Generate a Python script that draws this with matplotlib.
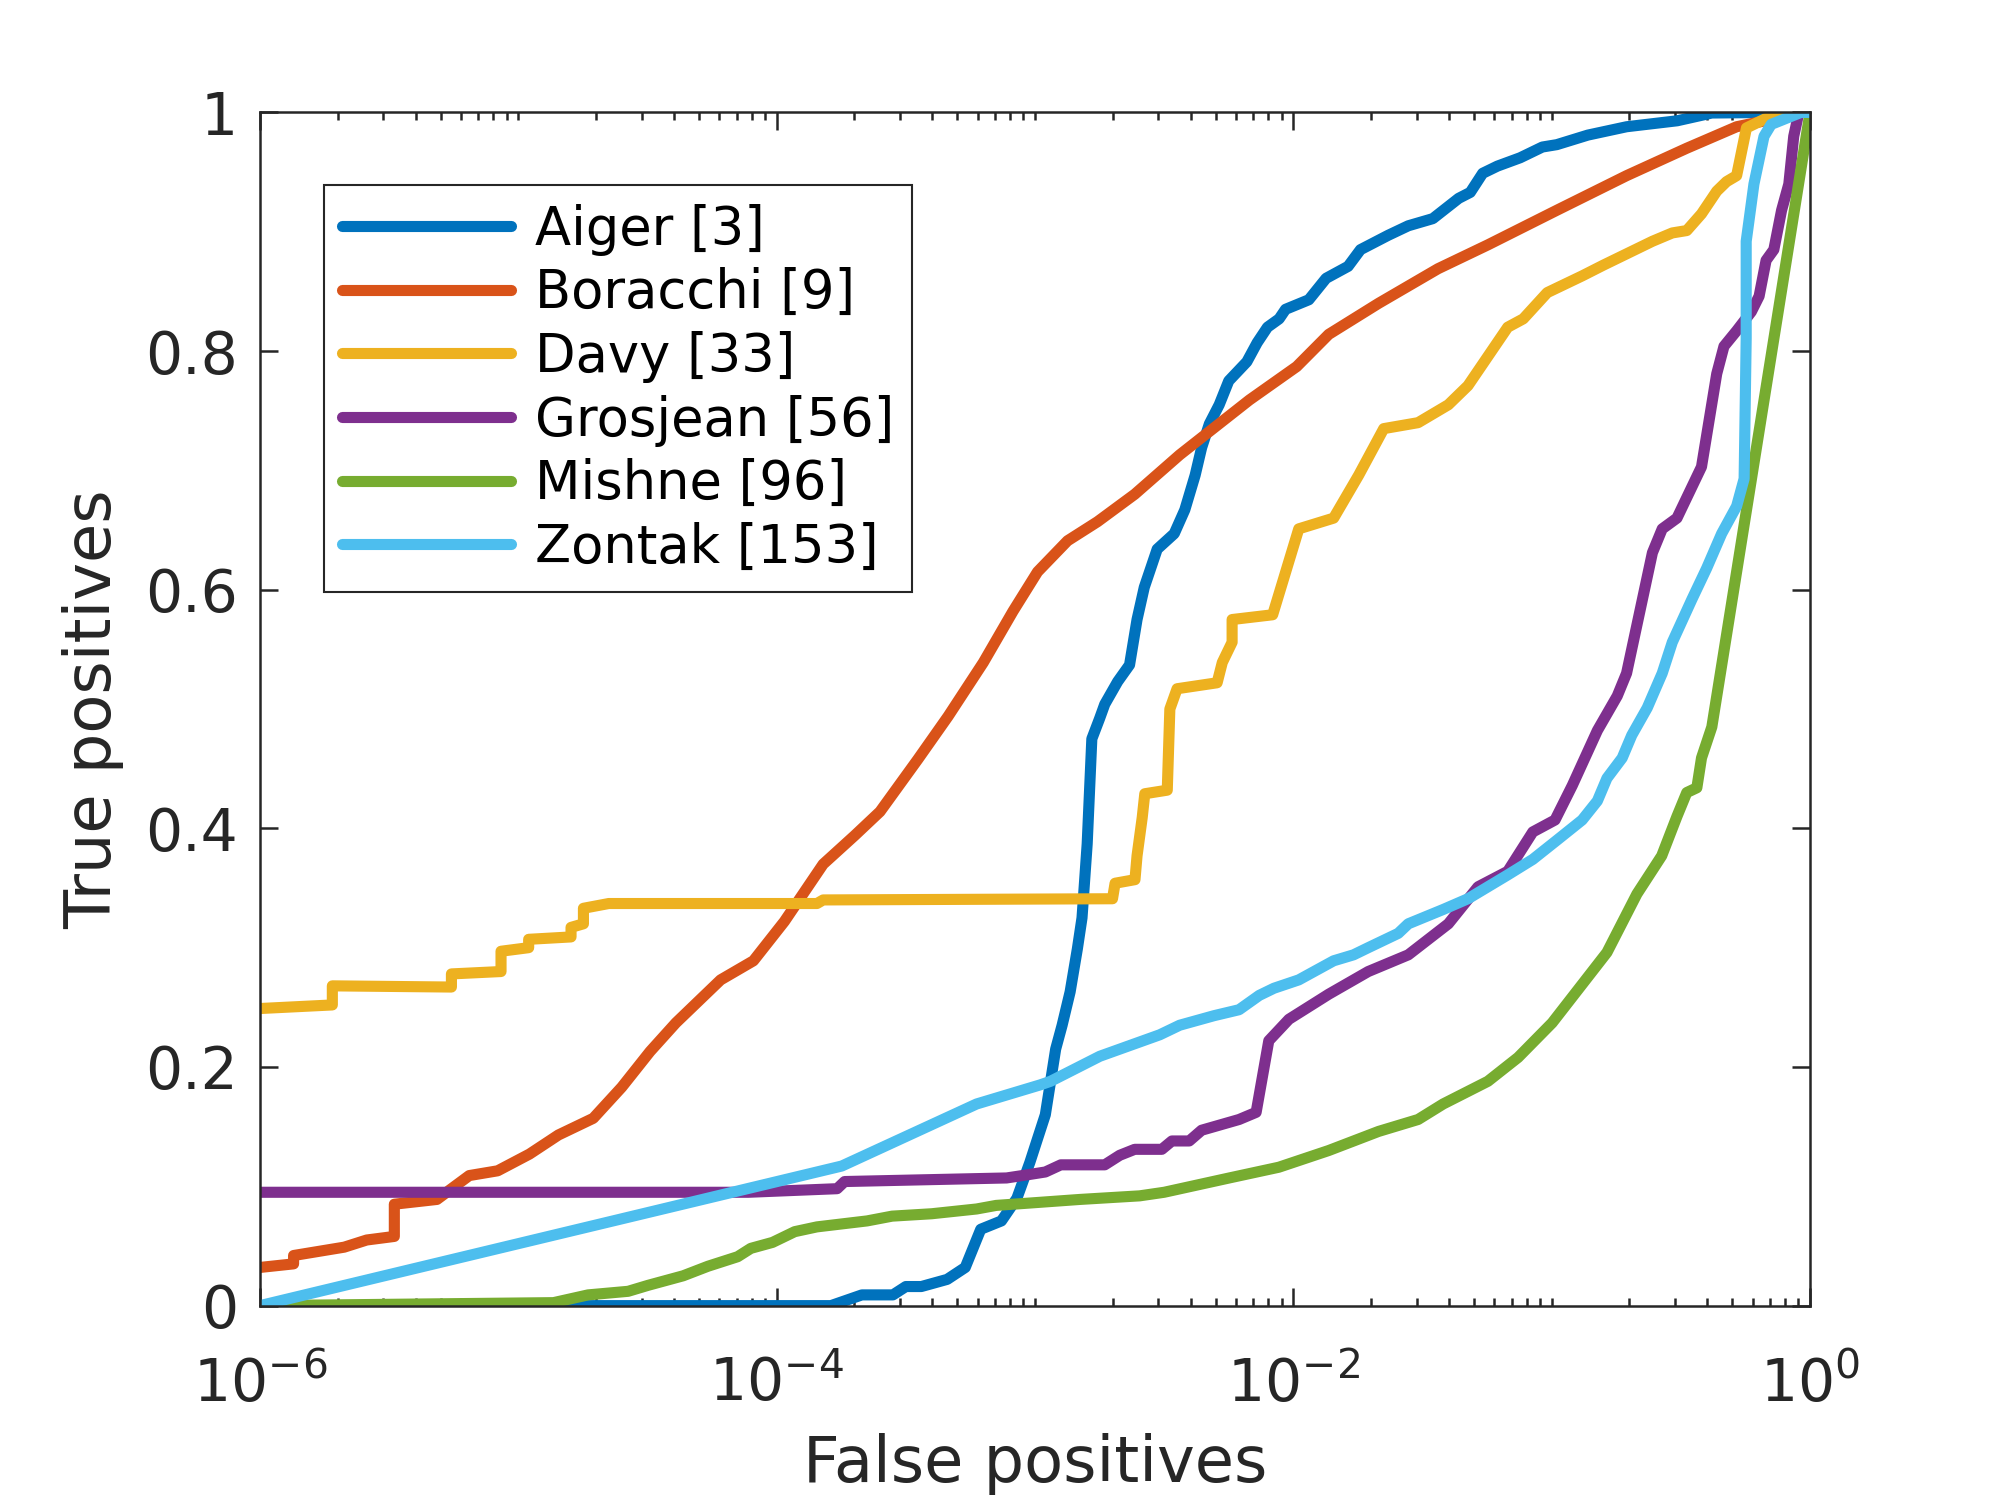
import numpy as np
import matplotlib
matplotlib.use('Agg')
import matplotlib.pyplot as plt
from matplotlib.ticker import NullFormatter

# 数据：横轴为 log10(误检率)，纵轴为检出率
aiger_lx = [-5.29, -3.79, -3.67, -3.55, -3.50, -3.44, -3.34, -3.27, -3.21, -3.13, -3.07, -3.02,
            -2.96, -2.92, -2.895, -2.864, -2.836, -2.818, -2.798, -2.78, -2.75, -2.73, -2.68,
            -2.634, -2.605, -2.577, -2.527, -2.461, -2.42, -2.38, -2.355, -2.325, -2.287, -2.25,
            -2.18, -2.14, -2.10, -2.055, -2.03, -1.94, -1.873, -1.788, -1.74, -1.633, -1.555,
            -1.46, -1.36, -1.315, -1.267, -1.21, -1.122, -1.036, -0.98, -0.86, -0.71, -0.514,
            -0.38, -0.13, 0.0]
aiger_tp = [0.0, 0.0, 0.009, 0.009, 0.016, 0.016, 0.022, 0.032, 0.064, 0.071, 0.09, 0.12,
            0.160, 0.215, 0.235, 0.263, 0.299, 0.325, 0.387, 0.475, 0.492, 0.504, 0.523,
            0.537, 0.575, 0.602, 0.634, 0.647, 0.667, 0.696, 0.719, 0.739, 0.755, 0.775,
            0.791, 0.807, 0.820, 0.827, 0.835, 0.843, 0.861, 0.871, 0.885, 0.897, 0.905,
            0.911, 0.928, 0.933, 0.949, 0.955, 0.962, 0.971, 0.973, 0.981, 0.988, 0.993,
            0.9995, 1.0, 1.0]

boracchi_lx = [-6.0, -5.87, -5.87, -5.674, -5.587, -5.48, -5.48, -5.315, -5.19, -5.08, -4.957,
               -4.845, -4.71, -4.60, -4.49, -4.39, -4.217, -4.09, -3.97, -3.82, -3.698, -3.60,
               -3.453, -3.336, -3.20, -3.085, -2.99, -2.874, -2.758, -2.614, -2.44, -2.17,
               -1.987, -1.863, -1.67, -1.44, -1.247, -0.98, -0.71, -0.477, -0.284, -0.13,
               -0.035, 0.0]
boracchi_tp = [0.032, 0.035, 0.042, 0.049, 0.055, 0.058, 0.085, 0.089, 0.109, 0.113, 0.127,
               0.143, 0.157, 0.183, 0.213, 0.237, 0.273, 0.289, 0.322, 0.37, 0.394, 0.414,
               0.458, 0.494, 0.539, 0.582, 0.615, 0.641, 0.657, 0.68, 0.713, 0.759,
               0.787, 0.814, 0.84, 0.869, 0.889, 0.918, 0.947, 0.970, 0.988, 0.995,
               1.0, 1.0]

davy_lx = [-6.0, -5.72, -5.72, -5.259, -5.259, -5.067, -5.067, -4.96, -4.96, -4.796, -4.796,
           -4.748, -4.748, -4.65, -3.844, -3.82, -2.70, -2.69, -2.613, -2.605, -2.585,
           -2.575, -2.488, -2.478, -2.45, -2.295, -2.275, -2.237, -2.237, -2.08, -1.979,
           -1.844, -1.747, -1.65, -1.517, -1.40, -1.324, -1.17, -1.11, -1.017, -0.882,
           -0.80, -0.61, -0.533, -0.477, -0.42, -0.361, -0.323, -0.284, -0.246, -0.17,
           -0.054, 0.0]
davy_tp = [0.249, 0.252, 0.268, 0.267, 0.278, 0.28, 0.297, 0.30, 0.307, 0.309, 0.317,
           0.32, 0.333, 0.337, 0.337, 0.340, 0.341, 0.354, 0.357, 0.377, 0.409,
           0.429, 0.432, 0.50, 0.517, 0.522, 0.539, 0.556, 0.575, 0.579, 0.651,
           0.66, 0.696, 0.735, 0.74, 0.755, 0.771, 0.82, 0.827, 0.849, 0.863,
           0.872, 0.892, 0.899, 0.901, 0.915, 0.934, 0.942, 0.947, 0.987, 0.995,
           1.0, 1.0]

grosjean_lx = [-6.0, -4.11, -3.766, -3.737, -3.11, -3.019, -2.96, -2.90, -2.73, -2.672, -2.614,
               -2.509, -2.47, -2.403, -2.355, -2.21, -2.144, -2.095, -2.017, -1.863, -1.71,
               -1.555, -1.40, -1.285, -1.17, -1.073, -0.987, -0.92, -0.823, -0.746, -0.71,
               -0.61, -0.572, -0.515, -0.42, -0.361, -0.333, -0.284, -0.227, -0.197, -0.17,
               -0.14, -0.11, -0.082, -0.063, -0.043, 0.0]
grosjean_tp = [0.095, 0.095, 0.098, 0.104, 0.107, 0.110, 0.112, 0.118, 0.118, 0.126, 0.131,
               0.131, 0.138, 0.138, 0.147, 0.156, 0.162, 0.222, 0.24, 0.261, 0.28,
               0.294, 0.32, 0.351, 0.364, 0.397, 0.407, 0.436, 0.482, 0.511, 0.53,
               0.631, 0.651, 0.66, 0.703, 0.781, 0.804, 0.817, 0.833, 0.846, 0.876,
               0.885, 0.918, 0.94, 0.98, 1.0, 1.0]

mishne_lx = [-6.0, -4.864, -4.73, -4.575, -4.498, -4.362, -4.266, -4.151, -4.10, -4.016, -3.93,
             -3.844, -3.65, -3.553, -3.40, -3.226, -3.15, -3.019, -2.826, -2.595, -2.50,
             -2.248, -2.056, -1.863, -1.67, -1.517, -1.42, -1.247, -1.13, -0.998, -0.786,
             -0.67, -0.574, -0.515, -0.477, -0.438, -0.42, -0.38, 0.0]
mishne_tp = [0.0, 0.0025, 0.009, 0.012, 0.017, 0.025, 0.033, 0.041, 0.048, 0.053, 0.062,
             0.066, 0.071, 0.075, 0.077, 0.081, 0.084, 0.086, 0.089, 0.092, 0.095,
             0.107, 0.116, 0.13, 0.146, 0.156, 0.169, 0.188, 0.208, 0.237, 0.296,
             0.345, 0.377, 0.41, 0.43, 0.434, 0.459, 0.485, 1.0]

zontak_lx = [-6.0, -3.748, -3.226, -2.98, -2.94, -2.749, -2.517, -2.44, -2.307, -2.21, -2.132,
             -2.075, -1.979, -1.92, -1.844, -1.767, -1.71, -1.594, -1.555, -1.42, -1.324,
             -1.247, -1.17, -1.073, -0.98, -0.882, -0.823, -0.786, -0.727, -0.69, -0.63,
             -0.572, -0.533, -0.457, -0.40, -0.342, -0.284, -0.255, -0.247, -0.247, -0.217,
             -0.178, -0.15, -0.035, 0.0]
zontak_tp = [0.0, 0.117, 0.169, 0.185, 0.188, 0.209, 0.227, 0.235, 0.243, 0.248, 0.26,
             0.266, 0.273, 0.28, 0.289, 0.294, 0.30, 0.312, 0.32, 0.332, 0.341,
             0.351, 0.361, 0.374, 0.39, 0.407, 0.423, 0.442, 0.459, 0.478, 0.501,
             0.53, 0.556, 0.592, 0.618, 0.647, 0.67, 0.693, 0.811, 0.892, 0.94,
             0.98, 0.99, 1.0, 1.0]

names = ['Aiger [3]', 'Boracchi [9]', 'Davy [33]', 'Grosjean [56]', 'Mishne [96]', 'Zontak [153]']
colors = ['#0072BD', '#D95319', '#EDB120', '#7E2F8E', '#77AC30', '#4DBEEE']
series = [(aiger_lx, aiger_tp), (boracchi_lx, boracchi_tp), (davy_lx, davy_tp),
          (grosjean_lx, grosjean_tp), (mishne_lx, mishne_tp), (zontak_lx, zontak_tp)]

plt.rcParams['font.family'] = ['DejaVu Sans']
plt.rcParams['mathtext.fontset'] = 'dejavusans'
text_color = '#262626'

fig = plt.figure(figsize=(20, 14.99), dpi=100)
ax = fig.add_axes([0.13, 0.129, 0.775, 0.796])

for (lx, tp), name, c in zip(series, names, colors):
    ax.plot(10.0 ** np.array(lx), tp, color=c, lw=8, label=name,
            solid_joinstyle='round', solid_capstyle='round')

ax.set_xscale('log')
ax.set_xlim(1e-6, 1)
ax.set_ylim(0, 1)
ax.set_xticks([1e-6, 1e-4, 1e-2, 1])
minor = [m * 10.0 ** d for d in range(-6, 0) for m in range(1, 10) if not (m == 1 and d % 2 == 0)]
ax.set_xticks(minor, minor=True)
ax.xaxis.set_minor_formatter(NullFormatter())
ax.set_yticks([0, 0.2, 0.4, 0.6, 0.8, 1])
ax.set_yticklabels(['0', '0.2', '0.4', '0.6', '0.8', '1'])

ax.tick_params(which='both', direction='in', top=True, right=True, colors=text_color,
               labelsize=42, width=1.8)
ax.tick_params(which='major', length=13)
ax.tick_params(which='minor', length=6)
ax.tick_params(axis='y', pad=16)
ax.tick_params(axis='x', pad=36)
for s in ax.spines.values():
    s.set_linewidth(1.8)
    s.set_color(text_color)

ax.set_xlabel('False positives', fontsize=46, color=text_color, labelpad=14)
ax.set_ylabel('True positives', fontsize=46, color=text_color, labelpad=15)

leg = ax.legend(loc='upper left', bbox_to_anchor=(0.041, 0.939), fontsize=38,
                fancybox=False, framealpha=1, edgecolor=text_color, handlelength=3.2,
                handletextpad=0.45, labelspacing=0.22, borderaxespad=0, borderpad=0.35)
leg.get_frame().set_linewidth(1.5)

fig.savefig('out.png', dpi=100)
